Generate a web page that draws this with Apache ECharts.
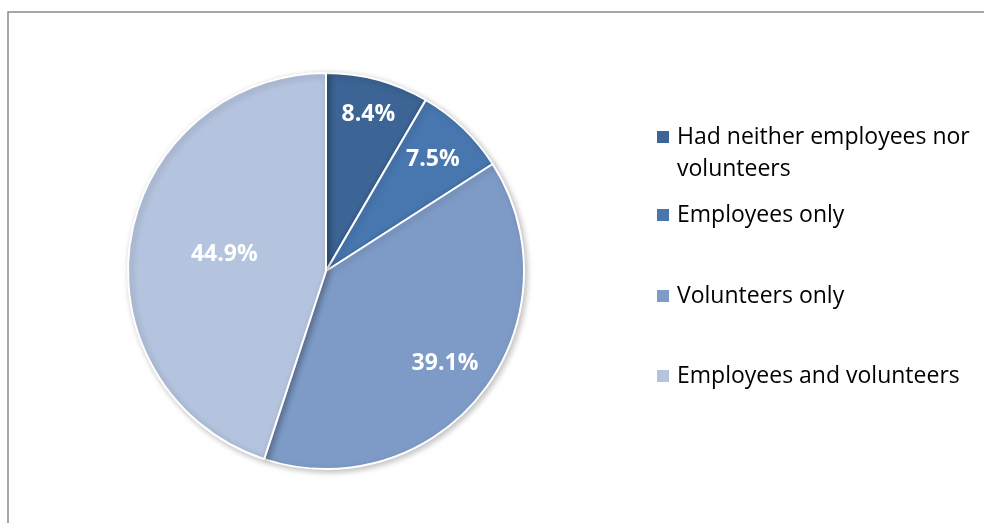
<!DOCTYPE html>
<html>
<head>
<meta charset="utf-8">
<script src="https://cdn.jsdelivr.net/npm/echarts@6/dist/echarts.min.js"></script>
<style>
html,body{margin:0;padding:0;background:#fff;}
#chart{width:984px;height:523px;}
</style>
</head>
<body>
<div id="chart"></div>
<script>
const categories = ['Had neither employees nor volunteers', 'Employees only', 'Volunteers only', 'Employees and volunteers'];
const legendLabels = ['Had neither employees nor\nvolunteers', 'Employees only', 'Volunteers only', 'Employees and volunteers'];
const values = [8.4, 7.5, 39.1, 44.9];
const colors = ['#3c6494', '#4877b0', '#7e9bc7', '#b4c3de'];

const CENTER = [326, 271];
const RADIUS = 198;
const labelRadiusRatio = [0.82, 0.78, 0.76, 0.52];
const legendIconCenters = [137, 215, 296, 376];
const LINE_H = 32;

const total = values.reduce((a, b) => a + b, 0);
const midAngles = [];
let acc = 0;
values.forEach(v => { midAngles.push((acc + v / 2) / total * 2 * Math.PI); acc += v; });

const chart = echarts.init(document.getElementById('chart'), null, {renderer: 'canvas'});
const FONT = '"Open Sans", "Noto Sans", sans-serif';

const legends = categories.map((name, i) => {
  const multi = legendLabels[i].indexOf('\n') >= 0;
  // for the two-line item, a blank first line keeps the icon beside the first text line
  const text = multi ? '\n' + legendLabels[i] : legendLabels[i];
  const h = multi ? LINE_H * 3 : LINE_H;
  return {
    orient: 'vertical',
    left: 657,
    top: legendIconCenters[i] - h / 2,
    padding: 0,
    itemWidth: 12,
    itemHeight: 12,
    icon: 'rect',
    selectedMode: false,
    itemStyle: {borderWidth: 0, shadowBlur: 0, shadowOffsetX: 0, shadowOffsetY: 0},
    data: [name],
    formatter: () => text,
    textStyle: {
      fontFamily: FONT,
      fontSize: 23,
      lineHeight: LINE_H,
      color: '#000',
      padding: [0, 0, 0, 3]
    }
  };
});

chart.setOption({
  animation: false,
  color: colors,
  graphic: [{
    type: 'rect',
    shape: {x: 8, y: 12, width: 1200, height: 800},
    style: {fill: 'none', stroke: '#8a8a8a', lineWidth: 1.5},
    silent: true,
    z: -10
  }],
  legend: legends,
  series: [{
    type: 'pie',
    center: CENTER,
    radius: RADIUS,
    startAngle: 90,
    clockwise: true,
    silent: true,
    itemStyle: {
      borderColor: '#fff',
      borderWidth: 2,
      shadowBlur: 6,
      shadowOffsetX: 2,
      shadowOffsetY: 2,
      shadowColor: 'rgba(0,0,0,0.25)'
    },
    label: {
      show: true,
      position: 'inside',
      formatter: p => p.value.toFixed(1) + '%',
      color: '#fff',
      fontFamily: FONT,
      fontWeight: 'bold',
      fontSize: 23
    },
    labelLine: {show: false},
    labelLayout: function (params) {
      const i = params.dataIndex;
      const a = midAngles[i];
      const r = RADIUS * labelRadiusRatio[i];
      return {
        x: CENTER[0] + r * Math.sin(a),
        y: CENTER[1] - r * Math.cos(a),
        align: 'center',
        verticalAlign: 'middle'
      };
    },
    data: categories.map((name, i) => ({name: name, value: values[i]}))
  }]
});
</script>
</body>
</html>
